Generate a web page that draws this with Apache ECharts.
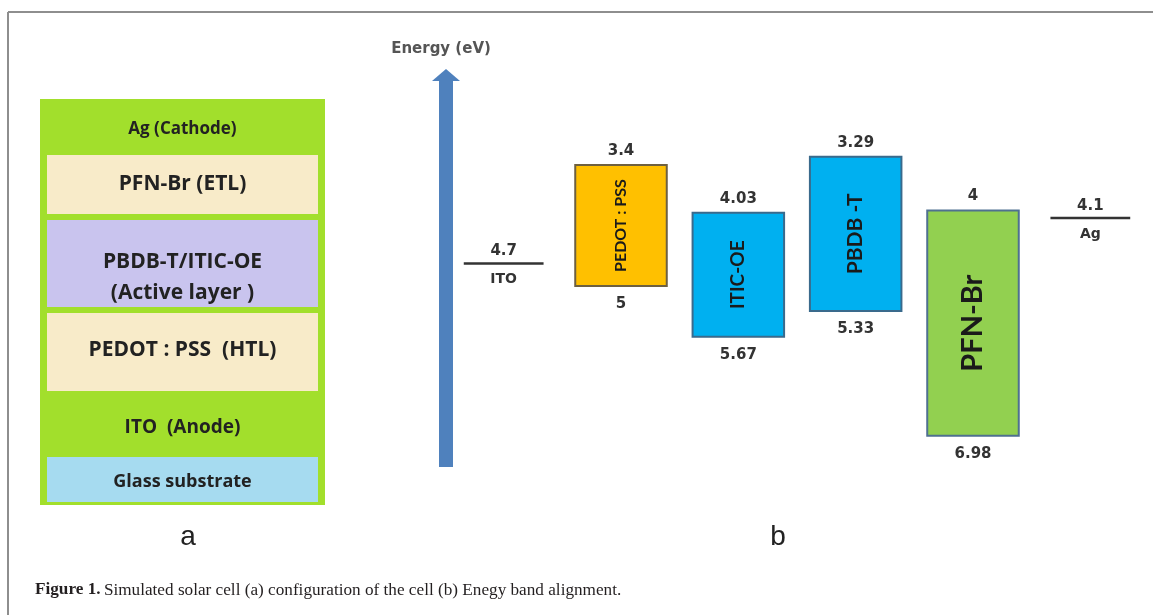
<!DOCTYPE html>
<html>
<head>
<meta charset="utf-8">
<script src="https://cdn.jsdelivr.net/npm/echarts@6/dist/echarts.min.js"></script>
<style>html,body{margin:0;padding:0;background:#fff;}#c{width:1153px;height:615px;}</style>
</head>
<body>
<div id="c"></div>
<script>
// ---- (a) device stack, bottom to top ----
const stackLayers = ['Glass substrate', 'ITO  (Anode)', 'PEDOT : PSS  (HTL)', 'PBDB-T/ITIC-OE\n(Active layer )', 'PFN-Br (ETL)', 'Ag (Cathode)'];
const stackThickness = [51, 60, 84, 93, 65, 53];

// ---- (b) energy levels (eV) ----
const bandMaterials = ['PEDOT : PSS', 'ITIC-OE', 'PBDB -T', 'PFN-Br'];
const bandLumo = [3.4, 4.03, 3.29, 4];
const bandHomo = [5, 5.67, 5.33, 6.98];
const electrodes = ['ITO', 'Ag'];
const workFunction = [4.7, 4.1];
const positions = ['ITO', 'PEDOT : PSS', 'ITIC-OE', 'PBDB -T', 'PFN-Br', 'Ag'];

// styles (kept apart from data)
const GREEN = '#A2DF2C';
const stackFill = ['#A6DBF0', GREEN, '#F8EBC9', '#C9C4EE', '#F8EBC9', GREEN];
const stackFont = [18, 19, 21, 21, 21, 17];
const stackOffset = [2, 4, -2, 14, 0, 4];
const bandFill = ['#FFC000', '#00B0F0', '#00B0F0', '#92D050'];
const bandStroke = ['#6E6040', '#3A6A8C', '#3A6A8C', '#4F7090'];
const bandFont = [16, 19, 21, 29];
const LABEL_FONT = '"Open Sans", Lato, sans-serif';
const ROT_FONT = 'Lato, "Open Sans", sans-serif';
const NUM_FONT = 'bold 15px "DejaVu Sans", sans-serif';

const chart = echarts.init(document.getElementById('c'), null, {renderer: 'canvas'});

const stackSeries = stackLayers.map((name, k) => ({
  type: 'bar', name: name, stack: 'dev', xAxisIndex: 0, yAxisIndex: 0,
  barWidth: 277, silent: true,
  data: [stackThickness[k]],
  itemStyle: {color: stackFill[k], borderColor: GREEN, borderWidth: 3},
  label: {show: true, position: 'inside', formatter: name, color: '#222',
          fontFamily: LABEL_FONT, fontWeight: 'bold', fontSize: stackFont[k],
          lineHeight: stackFont[k] + 10, offset: [0, stackOffset[k]]}
}));

function renderBand(params, api) {
  const k = params.dataIndex;
  const xi = api.value(0);
  const top = api.coord([xi, api.value(1)]);
  const bot = api.coord([xi, api.value(2)]);
  const w = api.size([1, 0])[0] * 0.78;
  const cx = top[0];
  return {
    type: 'group',
    children: [
      {type: 'rect', shape: {x: cx - w / 2, y: top[1], width: w, height: bot[1] - top[1]},
       style: {fill: bandFill[k], stroke: bandStroke[k], lineWidth: 2}},
      {type: 'text', x: cx, y: (top[1] + bot[1]) / 2, rotation: Math.PI / 2,
       style: {text: bandMaterials[k], align: 'center', verticalAlign: 'middle',
               font: 'bold ' + bandFont[k] + 'px ' + ROT_FONT, fill: '#1a1a1a'}},
      {type: 'text', x: cx, y: top[1] - 14,
       style: {text: String(bandLumo[k]), align: 'center', verticalAlign: 'middle', font: NUM_FONT, fill: '#333'}},
      {type: 'text', x: cx, y: bot[1] + 18,
       style: {text: String(bandHomo[k]), align: 'center', verticalAlign: 'middle', font: NUM_FONT, fill: '#333'}}
    ]
  };
}

function renderElectrode(params, api) {
  const k = params.dataIndex;
  const p = api.coord([api.value(0), api.value(1)]);
  const w = api.size([1, 0])[0] * 0.68;
  return {
    type: 'group',
    children: [
      {type: 'line', shape: {x1: p[0] - w / 2, y1: p[1], x2: p[0] + w / 2, y2: p[1]},
       style: {stroke: '#333', lineWidth: 2.5}},
      {type: 'text', x: p[0], y: p[1] - 12,
       style: {text: String(workFunction[k]), align: 'center', verticalAlign: 'middle', font: NUM_FONT, fill: '#333'}},
      {type: 'text', x: p[0], y: p[1] + 16,
       style: {text: electrodes[k], align: 'center', verticalAlign: 'middle', font: 'bold 14px "DejaVu Sans", sans-serif', fill: '#333'}}
    ]
  };
}

const option = {
  animation: false,
  backgroundColor: '#fff',
  grid: [
    {left: 40, top: 99, width: 285, height: 406, show: true, backgroundColor: GREEN, borderWidth: 0},
    {left: 445, top: 97, width: 704, height: 416},
    {left: 446, top: 75, width: 10, height: 392}
  ],
  xAxis: [
    {gridIndex: 0, type: 'category', data: ['device'], show: false},
    {gridIndex: 1, type: 'category', data: positions, show: false},
    {gridIndex: 2, type: 'value', show: false}
  ],
  yAxis: [
    {gridIndex: 0, type: 'value', min: 0, max: 406, show: false},
    {gridIndex: 1, type: 'value', inverse: true, min: 2.5, max: 8, show: false},
    {gridIndex: 2, type: 'value', min: 0, max: 1, position: 'left',
     name: 'Energy (eV)', nameLocation: 'end', nameGap: 18,
     nameTextStyle: {fontFamily: '"DejaVu Sans", sans-serif', fontWeight: 'bold', fontSize: 15, color: '#555', align: 'center', padding: [0, 10, 0, 0]},
     axisLine: {show: true, symbol: ['none', 'triangle'], symbolSize: [28, 12],
                lineStyle: {color: '#4F81BD', width: 14, cap: 'butt'}},
     axisTick: {show: false}, axisLabel: {show: false}, splitLine: {show: false}}
  ],
  series: stackSeries.concat([
    {type: 'custom', xAxisIndex: 1, yAxisIndex: 1, renderItem: renderBand, silent: true,
     encode: {x: 0, y: [1, 2]},
     data: bandMaterials.map((m, k) => [m, bandLumo[k], bandHomo[k]])},
    {type: 'custom', xAxisIndex: 1, yAxisIndex: 1, renderItem: renderElectrode, silent: true,
     encode: {x: 0, y: 1},
     data: electrodes.map((m, k) => [m, workFunction[k]])}
  ]),
  graphic: [
    {type: 'line', shape: {x1: 8, y1: 12, x2: 1153, y2: 12}, style: {stroke: '#8E8E8E', lineWidth: 2}, silent: true},
    {type: 'line', shape: {x1: 8, y1: 12, x2: 8, y2: 615}, style: {stroke: '#8E8E8E', lineWidth: 2}, silent: true},
    {type: 'text', x: 188, y: 537, style: {text: 'a', textAlign: 'center', textVerticalAlign: 'middle',
      font: '28px "Liberation Sans", Arial, sans-serif', fill: '#222'}},
    {type: 'text', x: 778, y: 537, style: {text: 'b', textAlign: 'center', textVerticalAlign: 'middle',
      font: '28px "Liberation Sans", Arial, sans-serif', fill: '#222'}},
    {type: 'text', x: 35, y: 590, style: {
      text: '{b|Figure 1.} {n|Simulated solar cell (a) configuration of the cell (b) Enegy band alignment.}',
      textVerticalAlign: 'middle',
      rich: {
        b: {fontFamily: '"Liberation Serif", serif', fontWeight: 'bold', fontSize: 17.2, fill: '#231F20', color: '#231F20'},
        n: {fontFamily: '"Liberation Serif", serif', fontSize: 17.2, fill: '#231F20', color: '#231F20'}
      }}}
  ]
};
chart.setOption(option);
</script>
</body>
</html>
